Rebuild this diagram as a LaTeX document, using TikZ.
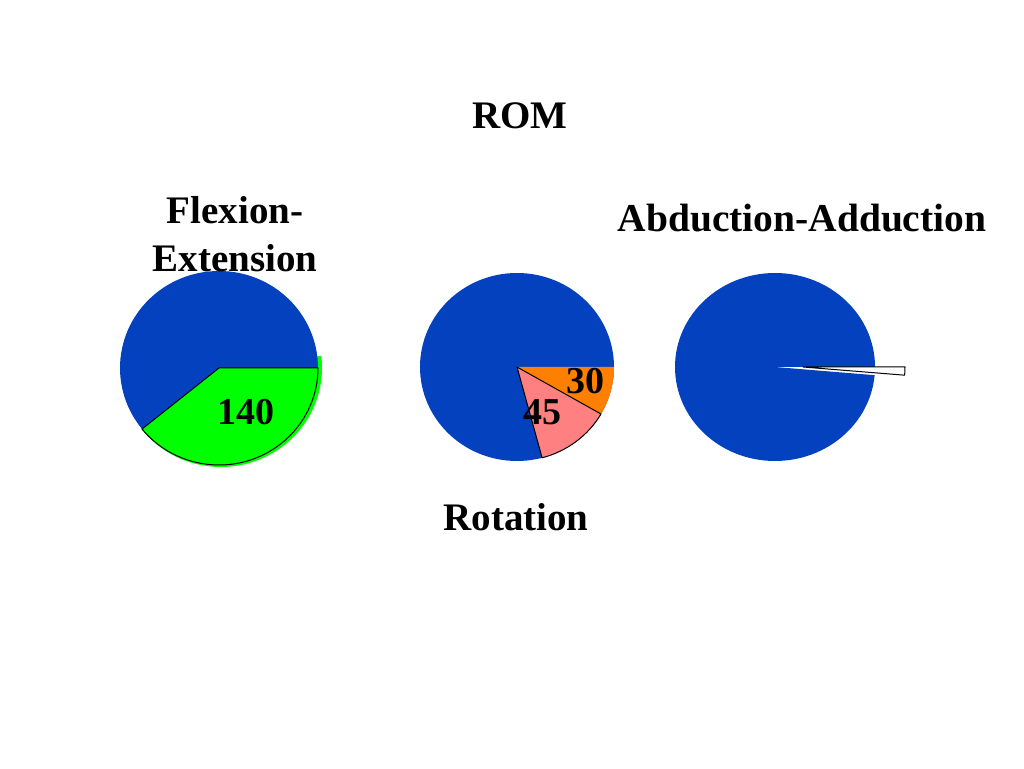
\documentclass[tikz,border=0pt]{standalone}
\usepackage{fontspec}
\setmainfont{Liberation Serif}
\usepackage{xcolor}
\definecolor{rom-blue}{RGB}{3,65,190}
\definecolor{rom-green}{RGB}{0,255,0}
\definecolor{rom-orange}{RGB}{255,128,0}
\definecolor{rom-pink}{RGB}{255,128,128}

\begin{document}
\begin{tikzpicture}[x=1pt,y=1pt]
				\tikzset{title/.style={font=\fontsize{39}{48}\selectfont\bfseries, align=center}}
				\tikzset{num/.style={font=\fontsize{38}{40}\selectfont\bfseries, inner sep=0pt}}
				\tikzset{slice/.style={draw=black, line width=1pt, line join=round}}
				\useasboundingbox (0,0) rectangle (1024,768);
				
				% flexion-extension
				\fill[rom-green] (221,400) -- +(-142:101 and 99) arc[start angle=-142, end angle=7, x radius=101, y radius=99] -- cycle;
				\fill[rom-blue] (219,400) ellipse[x radius=99, y radius=97];
				\draw[slice, fill=rom-green] (219,400) -- +(-141:99 and 97) arc[start angle=-141, end angle=0, x radius=99, y radius=97] -- cycle;
				
				% rotation
				\fill[rom-blue] (517,401) ellipse[x radius=97, y radius=94];
				\fill[rom-orange] (517,401) -- +(0:97 and 94) arc[start angle=0, end angle=-30, x radius=97, y radius=94] -- cycle;
				\draw[slice, fill=rom-pink] (517,401) -- +(-30:97 and 94) arc[start angle=-30, end angle=-75, x radius=97, y radius=94] -- cycle;
				
				% abduction-adduction
				\fill[rom-blue] (775,401) -- +(0:100 and 94) arc[start angle=0, end angle=355, x radius=100, y radius=94] -- cycle;
				\draw[slice, fill=white] (803,401) -- +(0:102 and 94) arc[start angle=0, end angle=-5, x radius=102, y radius=94] -- cycle;
				
				\node[title] (rom) at (520,652) {ROM};
				\node[title] (flex) at (235,534) {Flexion-\\Extension};
				\node[title, font=\fontsize{39.5}{48}\selectfont\bfseries] (abad) at (802,550) {Abduction-Adduction};
				\node[title] (rot) at (516,251) {Rotation};
				\node[num] (flexval) at (246,356) {140};
				\node[num] (rotext) at (585,387) {30};
				\node[num] (rotint) at (542,356) {45};
\end{tikzpicture}
\end{document}
